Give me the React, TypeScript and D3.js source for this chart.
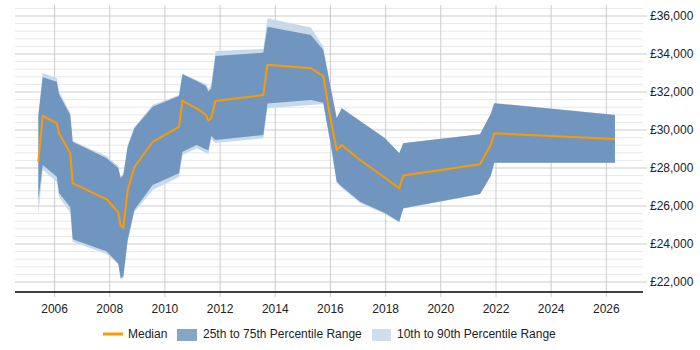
import React from 'react';
import * as d3 from 'd3';

// sample dates and salary percentiles (GBP)
const dates = [
  '2005-05-31', '2005-07-28', '2006-01-30', '2006-03-01', '2006-07-28', '2006-08-29',
  '2007-11-22', '2008-04-23', '2008-05-25', '2008-06-29', '2008-08-26', '2008-11-22',
  '2009-07-23', '2010-07-06', '2010-08-21', '2011-02-25', '2011-06-28', '2011-07-31',
  '2011-09-05', '2011-11-01', '2013-07-26', '2013-09-20', '2015-04-18', '2015-09-28',
  '2016-01-05', '2016-03-24', '2016-05-30', '2017-01-27', '2017-12-23', '2018-06-30',
  '2018-08-22', '2021-06-03', '2021-10-23', '2021-12-09', '2026-04-25',
];
const median = [
  28330, 30750, 30350, 29830, 28770, 27190, 26350, 25670, 24950, 24860, 26840, 28040,
  29380, 30170, 31530, 31140, 30790, 30490, 30620, 31530, 31840, 33440, 33250, 32840,
  30530, 28950, 29210, 28420, 27490, 26930, 27600, 28200, 29210, 29830, 29530,
];
const p25 = [
  26320, 28160, 27540, 26680, 25930, 24250, 23600, 22980, 22200, 22300, 24210, 25790,
  27100, 27720, 28860, 29210, 28980, 28950, 29680, 29470, 29740, 31400, 31580, 31440,
  29260, 27280, 27020, 26230, 25630, 25170, 25880, 26630, 27580, 28280, 28280,
];
const p75 = [
  30740, 32770, 32540, 31880, 30790, 29380, 28510, 28000, 27470, 27630, 29120, 30090,
  31230, 31790, 32930, 32580, 32320, 32020, 32190, 33890, 34070, 35440, 35000, 34210,
  32210, 30620, 31140, 30470, 29560, 28770, 29300, 29770, 30840, 31410, 30790,
];
const p10 = [
  25530, 27890, 27280, 26490, 25630, 24120, 23470, 22930, 22150, 22200, 24160, 25680,
  26840, 27530, 28680, 29040, 28790, 28740, 29530, 29320, 29560, 31140, 31320, 31370,
  29160, 27240, 26950, 26160, 25580, 25130, 25860, 26620, 27570, 28270, 28270,
];
const p90 = [
  30840, 33000, 32740, 32050, 30890, 29420, 28630, 28100, 27540, 27700, 29210, 30160,
  31330, 31840, 32970, 32630, 32420, 32160, 32370, 34160, 34260, 35880, 35390, 34390,
  32260, 30640, 31160, 30490, 29580, 28790, 29320, 29780, 30850, 31420, 30800,
];

const yTicks = [22000, 24000, 26000, 28000, 30000, 32000, 34000, 36000];
const xTickYears = [2006, 2008, 2010, 2012, 2014, 2016, 2018, 2020, 2022, 2024, 2026];

const W = 700;
const H = 350;
const left = 15;
const right = 643;
const top = 5;
const bottom = 292;
const font = '"Liberation Sans", Arial, sans-serif';

type Row = { date: Date; med: number; lo: number; hi: number; lo2: number; hi2: number };

const rows: Row[] = dates.map((d, i) => ({
  date: new Date(d + 'T00:00:00'),
  med: median[i],
  lo: p25[i],
  hi: p75[i],
  lo2: p10[i],
  hi2: p90[i],
}));

const x = d3.scaleTime()
  .domain([new Date(2004, 6, 26), new Date(2027, 4, 1)])
  .range([left, right]);

const y = d3.scaleLinear()
  .domain([21474, 36579])
  .range([bottom, top]);

const outerArea = d3.area<Row>().x(d => x(d.date)).y0(d => y(d.lo2)).y1(d => y(d.hi2));
const innerArea = d3.area<Row>().x(d => x(d.date)).y0(d => y(d.lo)).y1(d => y(d.hi));
const medLine = d3.line<Row>().x(d => x(d.date)).y(d => y(d.med));

const fmt = d3.format(',');
const minorTicks = d3.range(22000, 36401, 400).filter(v => v % 2000 !== 0);

export default function App() {
  return (
    <svg
      width={W}
      height={H}
      style={{ position: 'absolute', left: 0, top: 0, display: 'block', background: '#fff' }}
      fontFamily={font}
    >
      {/* minor grid */}
      {minorTicks.map(v => (
        <line key={'m' + v} x1={left} x2={right} y1={y(v)} y2={y(v)} stroke="#e8e8e8" strokeWidth={1} />
      ))}
      {/* major grid + right labels */}
      {yTicks.map(v => (
        <g key={'y' + v}>
          <line x1={left} x2={right + 4} y1={y(v)} y2={y(v)} stroke="#cccccc" strokeWidth={1} />
          <text x={650} y={y(v)} dy="0.35em" fontSize={12} fill="#222">£{fmt(v)}</text>
        </g>
      ))}
      {/* vertical grid + year labels */}
      {xTickYears.map(yr => {
        const px = x(new Date(yr, 0, 1));
        return (
          <g key={'x' + yr}>
            <line x1={px} x2={px} y1={top} y2={bottom + 5} stroke="#cccccc" strokeWidth={1} />
            <text x={px} y={313} textAnchor="middle" fontSize={12} fill="#222">{yr}</text>
          </g>
        );
      })}

      <path d={outerArea(rows) ?? ''} fill="#c9d9ec" />
      <path d={innerArea(rows) ?? ''} fill="#7096bf" />
      <path d={medLine(rows) ?? ''} fill="none" stroke="#ff9900" strokeWidth={2} strokeLinejoin="round" />

      <line x1={left} x2={right} y1={bottom} y2={bottom} stroke="#000" strokeWidth={1.5} />

      {/* legend */}
      <g fontSize={12} fill="#222">
        <line x1={103} x2={123} y1={334} y2={334} stroke="#ff9900" strokeWidth={3} />
        <text x={128} y={338}>Median</text>
        <rect x={177} y={329} width={20} height={12} fill="#87a5c7" />
        <text x={203} y={338}>25th to 75th Percentile Range</text>
        <rect x={372} y={329} width={19} height={12} fill="#cfdeef" />
        <text x={397} y={338}>10th to 90th Percentile Range</text>
      </g>
    </svg>
  );
}
